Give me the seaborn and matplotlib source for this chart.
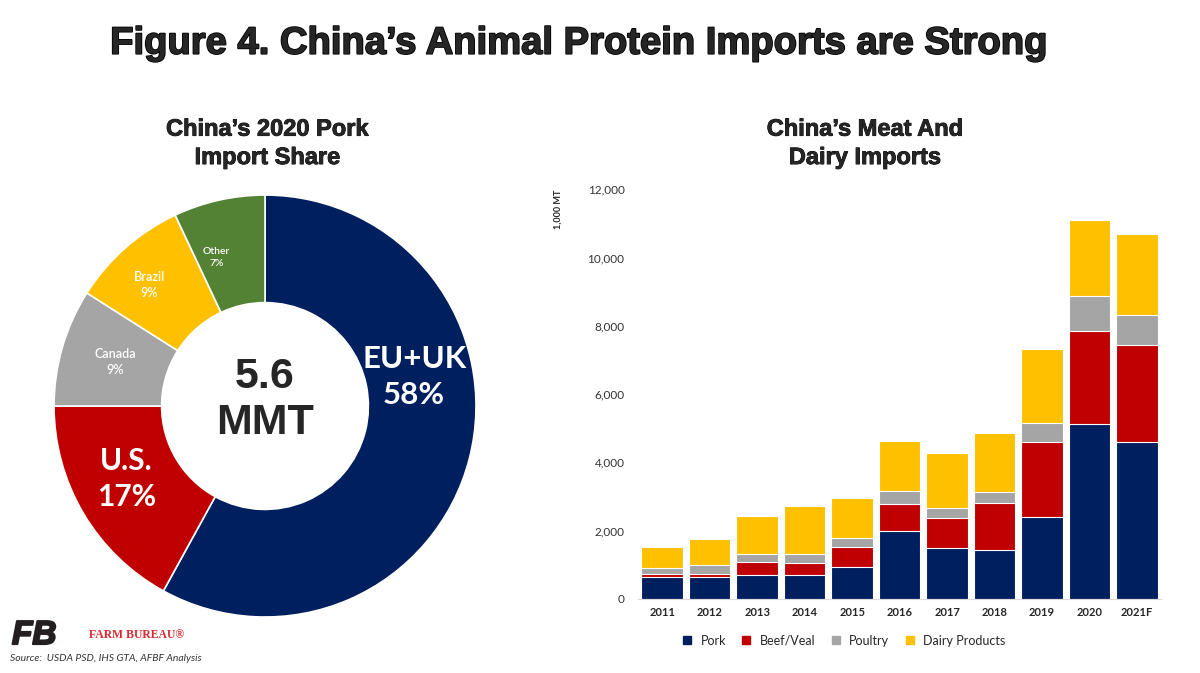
import numpy as np
import pandas as pd
import matplotlib
matplotlib.use("Agg")
import matplotlib.pyplot as plt
import matplotlib.patheffects as pe
from matplotlib.lines import Line2D
import seaborn as sns

# ----------------------------------------------------------------------
# Data
# ----------------------------------------------------------------------
share_labels = ["EU+UK", "U.S.", "Canada", "Brazil", "Other"]
share_values = [58, 17, 9, 9, 7]
share_colors = ["#001F5F", "#C00000", "#A5A5A5", "#FFC000", "#548235"]

years = ["2011", "2012", "2013", "2014", "2015", "2016",
         "2017", "2018", "2019", "2020", "2021F"]
pork = [650, 650, 700, 700, 930, 1980, 1485, 1440, 2390, 5130, 4590]
beef_veal = [80, 80, 390, 345, 585, 805, 890, 1375, 2200, 2715, 2845]
poultry = [190, 270, 225, 275, 265, 390, 295, 310, 570, 1015, 880]
dairy = [590, 760, 1125, 1395, 1170, 1445, 1600, 1730, 2150, 2230, 2385]

series_names = ["Pork", "Beef/Veal", "Poultry", "Dairy Products"]
series_colors = ["#001F5F", "#C00000", "#A5A5A5", "#FFC000"]

# ----------------------------------------------------------------------
# Figure setup
# ----------------------------------------------------------------------
sns.set_theme(style="white")
plt.rcParams["font.family"] = ["Lato", "DejaVu Sans"]

fig = plt.figure(figsize=(12, 6.73), dpi=100)

heavy = [pe.withStroke(linewidth=1.2, foreground="black")]
fig.text(0.483, 0.935, "Figure 4. China\u2019s Animal Protein Imports are Strong",
         ha="center", va="center", fontsize=27.5, fontweight="black",
         family="Liberation Sans", path_effects=heavy)

# ----------------------------------------------------------------------
# Donut chart
# ----------------------------------------------------------------------
ax_pie = fig.add_axes([0.045, 0.0832, 0.3517, 0.627])
wedges, texts = ax_pie.pie(
    share_values, colors=share_colors, startangle=90, counterclock=False,
    labels=[f"{l}\n{v}%" for l, v in zip(share_labels, share_values)],
    labeldistance=0.74, radius=1.0,
    wedgeprops=dict(width=0.51, edgecolor="white", linewidth=1.2),
    textprops=dict(color="white", ha="center", va="center"))
ax_pie.set_xlim(-1, 1)
ax_pie.set_ylim(-1, 1)
ax_pie.set_aspect("equal")

big = {"EU+UK": 22.5, "U.S.": 21.5}
for t, lab in zip(texts, share_labels):
    t.set_ha("center")
    if lab in big:
        t.set_fontsize(big[lab])
        t.set_fontweight("bold")
        t.set_linespacing(1.35)
    else:
        t.set_fontsize(9 if lab != "Other" else 7.5)
        t.set_fontweight("semibold")
        t.set_linespacing(1.4)
# EU+UK label sits higher than the wedge middle in the reference
x0, y0 = texts[0].get_position()
texts[0].set_position((x0 - 0.01, y0 + 0.32))
x1, y1 = texts[1].get_position()
texts[1].set_position((x1 - 0.02, y1 + 0.03))
x3, y3 = texts[3].get_position()
texts[3].set_position((x3 - 0.06, y3 + 0.02))
x4, y4 = texts[4].get_position()
texts[4].set_position((x4 - 0.07, y4 - 0.02))

ax_pie.text(0, 0.03, "5.6\nMMT", ha="center", va="center", fontsize=31,
            fontweight="bold", family="Liberation Sans", linespacing=1.2)

fig.text(0.223, 0.787, "China\u2019s 2020 Pork\nImport Share", ha="center",
         va="center", fontsize=17, fontweight="bold", linespacing=1.3,
         family="Liberation Sans",
         path_effects=[pe.withStroke(linewidth=0.6, foreground="black")])

# ----------------------------------------------------------------------
# Stacked bar chart (layers drawn as cumulative totals)
# ----------------------------------------------------------------------
df = pd.DataFrame({"Year": years, "Pork": pork, "Beef/Veal": beef_veal,
                   "Poultry": poultry, "Dairy Products": dairy})
cum = df[series_names].cumsum(axis=1)
cum["Year"] = df["Year"]

ax_bar = fig.add_axes([0.532, 0.110, 0.4354, 0.609])
for name, color in reversed(list(zip(series_names, series_colors))):
    sns.barplot(data=cum, x="Year", y=name, color=color, width=0.87,
                edgecolor="white", linewidth=0.8, saturation=1, ax=ax_bar)

ax_bar.set_ylim(0, 12000)
ax_bar.set_yticks(np.arange(0, 12001, 2000))
ax_bar.set_yticklabels([f"{v:,}" for v in range(0, 12001, 2000)],
                       fontsize=8.5, color="#333333")
ax_bar.set_xticks(range(len(years)))
ax_bar.set_xticklabels(years, fontsize=8, fontweight="bold")
ax_bar.tick_params(axis="both", length=0, pad=10)
ax_bar.tick_params(axis="x", pad=6)
ax_bar.set_xlabel("")
ax_bar.set_ylabel("")
for s in ["top", "right", "left"]:
    ax_bar.spines[s].set_visible(False)
ax_bar.spines["bottom"].set_color("#D9D9D9")
ax_bar.spines["bottom"].set_linewidth(0.8)

fig.text(0.465, 0.718, "1,000 MT", rotation=90, ha="center", va="top",
         fontsize=6.5, fontweight="bold")

fig.text(0.721, 0.787, "China\u2019s Meat And\nDairy Imports", ha="center",
         va="center", fontsize=17, fontweight="bold", linespacing=1.3,
         family="Liberation Sans",
         path_effects=[pe.withStroke(linewidth=0.6, foreground="black")])

handles = [Line2D([0], [0], marker="s", linestyle="", markersize=6,
                  markerfacecolor=c, markeredgecolor=c) for c in series_colors]
fig.legend(handles, series_names, loc="center", bbox_to_anchor=(0.7, 0.048),
           ncol=4, frameon=False, fontsize=9, handletextpad=0.1,
           columnspacing=0.6)

# ----------------------------------------------------------------------
# Logo + source
# ----------------------------------------------------------------------
fig.text(0.010, 0.043, "FB", fontsize=24, fontweight="black", style="italic",
         color="#231F20", va="baseline", family="Liberation Sans",
         path_effects=[pe.withStroke(linewidth=1.5, foreground="#231F20")])
fig.text(0.074, 0.052, "FARM BUREAU\u00ae", fontsize=8.5, color="#D7282F",
         va="baseline", family="Liberation Serif", fontweight="bold")
fig.text(0.008, 0.018, "Source:  USDA PSD, IHS GTA, AFBF Analysis",
         fontsize=7.5, style="italic", color="#333333", va="baseline")

fig.savefig("out.png", dpi=100)
